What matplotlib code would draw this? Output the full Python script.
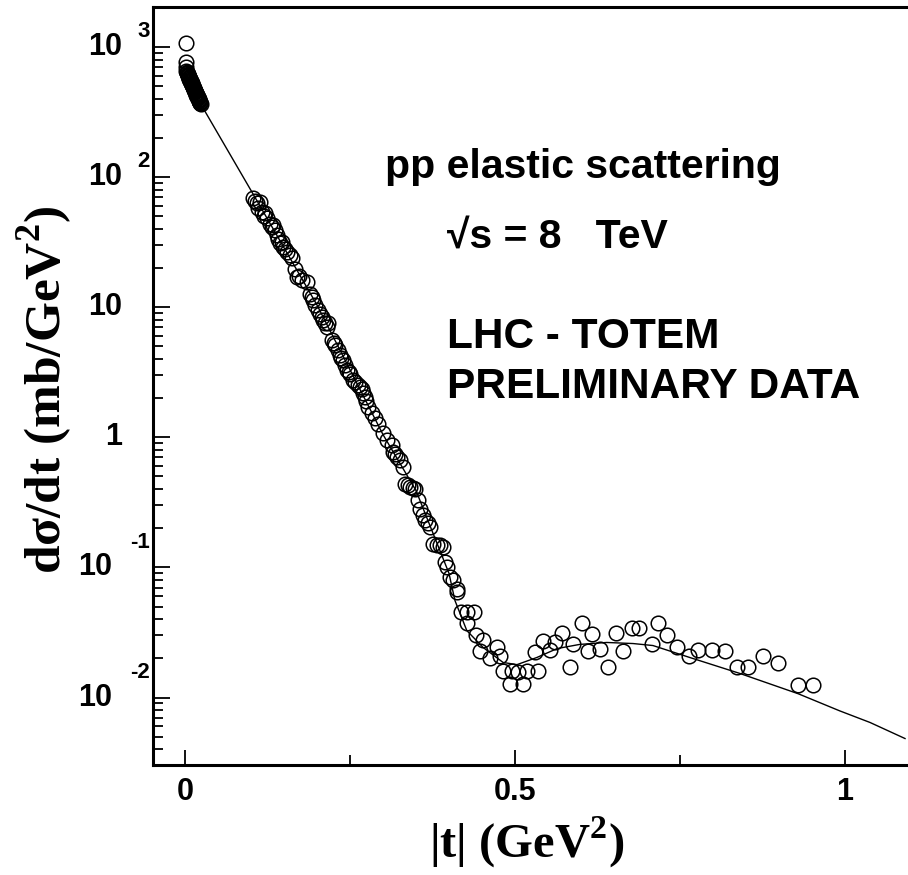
import matplotlib
matplotlib.use('Agg')
import matplotlib.pyplot as plt
import matplotlib.transforms as mtransforms
from matplotlib.ticker import LogLocator, MultipleLocator, NullFormatter

plt.rcParams['mathtext.fontset'] = 'custom'
plt.rcParams['mathtext.rm'] = 'Liberation Serif:bold'
plt.rcParams['mathtext.bf'] = 'Liberation Serif:bold'

# TOTEM preliminary points, |t| in GeV^2 and dsigma/dt in mb/GeV^2
# low |t| cluster (very dense, shows up as a black blob)
t_low = [0.0015, 0.0015, 0.0018,
         0.0020, 0.0024, 0.0029, 0.0033, 0.0038, 0.0042, 0.0046, 0.0051, 0.0055, 0.0060,
         0.0064, 0.0068, 0.0073, 0.0077, 0.0082, 0.0086, 0.0090, 0.0095, 0.0099, 0.0104,
         0.0108, 0.0112, 0.0117, 0.0121, 0.0126, 0.0130, 0.0134, 0.0139, 0.0143, 0.0148,
         0.0152, 0.0156, 0.0161, 0.0165, 0.0170, 0.0174, 0.0178, 0.0183, 0.0187, 0.0192,
         0.0196, 0.0200, 0.0205, 0.0209, 0.0214, 0.0218, 0.0222, 0.0227, 0.0231, 0.0235]
dsdt_low = [1074, 767, 700,
            650, 642, 635, 627, 620, 613, 606, 599, 592, 585,
            578, 571, 564, 558, 551, 545, 538, 532, 526, 520,
            514, 508, 502, 496, 490, 484, 479, 473, 468, 462,
            457, 451, 446, 441, 436, 431, 426, 421, 416, 411,
            406, 402, 397, 392, 388, 383, 379, 374, 370, 366]

t_high = [0.1035, 0.1060, 0.1086, 0.1111, 0.1136, 0.1162, 0.1190, 0.1212, 0.1238, 0.1288,
          0.1314, 0.1340, 0.1364, 0.1390, 0.1414, 0.1439, 0.1470, 0.1489, 0.1520, 0.1541,
          0.1591, 0.1617, 0.1667, 0.1692, 0.1730, 0.1768, 0.1844, 0.1894, 0.1920, 0.1944,
          0.1970, 0.2020, 0.2045, 0.2070, 0.2095, 0.2120, 0.2147, 0.2171, 0.2223, 0.2250,
          0.2273, 0.2323, 0.2348, 0.2370, 0.2398, 0.2424, 0.2450, 0.2480, 0.2500, 0.2550,
          0.2580, 0.2626, 0.2650, 0.2677, 0.2700, 0.2727, 0.2750, 0.2777, 0.2833, 0.2880,
          0.2929, 0.3000, 0.3056, 0.3132, 0.3156, 0.3180, 0.3208, 0.3258, 0.3308, 0.3333,
          0.3380, 0.3409, 0.3460, 0.3485, 0.3535, 0.3560, 0.3611, 0.3636, 0.3680, 0.3712,
          0.3762, 0.3820, 0.3864, 0.3914, 0.3939, 0.3965, 0.4015, 0.4065, 0.4117, 0.4121,
          0.4180, 0.4273, 0.4379, 0.4273, 0.4409, 0.4515, 0.4470, 0.4727, 0.4621, 0.4773,
          0.4818, 0.4955, 0.5045, 0.5182, 0.5348, 0.4924, 0.5121, 0.5303, 0.5424, 0.5530,
          0.5606, 0.5712, 0.5879, 0.5833, 0.6015, 0.6167, 0.6106, 0.6288, 0.6409, 0.6530,
          0.6636, 0.6773, 0.6879, 0.7076, 0.7167, 0.7303, 0.7455, 0.7636, 0.7773, 0.7985,
          0.8182, 0.8364, 0.8530, 0.8758, 0.8985, 0.9288, 0.9515]
dsdt_high = [68.6, 66.0, 62.8, 57.5, 64.6, 54.1, 50.5, 52.6, 48.1, 44.0,
             41.5, 42.5, 39.1, 35.8, 33.7, 30.9, 31.5, 29.1, 28.0, 26.6,
             25.1, 23.7, 19.8, 17.1, 17.5, 16.1, 15.7, 12.7, 12.0, 11.3,
             10.4, 9.48, 8.93, 8.4, 7.94, 7.6, 7.05, 7.5, 5.57, 5.3,
             5.10, 4.67, 4.27, 4.1, 3.91, 3.58, 3.27, 3.2, 3.09, 2.74,
             2.65, 2.51, 2.45, 2.37, 2.2, 2.04, 1.9, 1.71, 1.53, 1.42,
             1.27, 1.08, 0.949, 0.868, 0.770, 0.74, 0.705, 0.665, 0.591, 0.440,
             0.43, 0.415, 0.41, 0.403, 0.327, 0.283, 0.251, 0.230, 0.22, 0.204,
             0.152, 0.150, 0.148, 0.143, 0.110, 0.100, 0.0841, 0.0794, 0.0685, 0.0642,
             0.0451, 0.0451, 0.0451, 0.0371, 0.0300, 0.0279, 0.0226, 0.0243, 0.0200, 0.0210,
             0.0161, 0.0161, 0.0156, 0.0161, 0.0161, 0.0128, 0.0128, 0.0222, 0.0274, 0.0230,
             0.0265, 0.0316, 0.0260, 0.0173, 0.0371, 0.0310, 0.0226, 0.0238, 0.0173, 0.0316,
             0.0226, 0.0340, 0.0340, 0.0260, 0.0371, 0.0300, 0.0243, 0.0210, 0.0230, 0.0230,
             0.0226, 0.0173, 0.0173, 0.0210, 0.0183, 0.0124, 0.0124]

# model curve
t_model = [0.005, 0.0273, 0.106, 0.20, 0.30, 0.35, 0.40, 0.409, 0.427, 0.4515, 0.482,
           0.503, 0.533, 0.564, 0.598, 0.639, 0.679, 0.709, 0.765, 0.841, 0.929,
           0.992, 1.038, 1.091]
dsdt_model = [520, 340, 70.0, 10.4, 1.05, 0.39, 0.090, 0.0557, 0.0327, 0.0243, 0.0186,
              0.0179, 0.0203, 0.0238, 0.0256, 0.0265, 0.0260, 0.0251, 0.0203, 0.0153,
              0.0107, 0.0079, 0.00643, 0.00484]

ytick_vals = [1e-2, 1e-1, 1, 10, 100, 1000]
ytick_base = ['10', '10', '1', '10', '10', '10']
ytick_exp = ['-2', '-1', '', '', '2', '3']

W, H = 908, 875
fig = plt.figure(figsize=(W / 100, H / 100), dpi=100)
ax = fig.add_axes([153 / W, (H - 765) / H, (W - 153) / W, (765 - 7) / H])

ax.plot(t_model, dsdt_model, color='black', lw=1.0, zorder=2)
ax.plot(t_low + t_high, dsdt_low + dsdt_high, ls='none', marker='o', ms=10.5, mfc='none',
        mec='black', mew=1.1, zorder=3)

ax.set_yscale('log')
ax.set_xlim(-0.0485, 1.0955)
ax.set_ylim(0.00303, 2030)

for side in ['top', 'left', 'bottom']:
    ax.spines[side].set_linewidth(2.2)
ax.spines['right'].set_visible(False)

ax.xaxis.set_major_locator(MultipleLocator(0.5))
ax.xaxis.set_minor_locator(MultipleLocator(0.25))
ax.tick_params(axis='x', which='major', direction='in', length=11, width=1.3,
               top=False, pad=9)
ax.tick_params(axis='x', which='minor', direction='in', length=7, width=1.3, top=False)

ax.yaxis.set_major_locator(LogLocator(base=10, numticks=20))
ax.yaxis.set_minor_locator(LogLocator(base=10, subs=range(2, 10), numticks=50))
ax.yaxis.set_minor_formatter(NullFormatter())
ax.tick_params(axis='y', which='major', direction='in', length=12, width=1.3,
               right=False, labelleft=False)
ax.tick_params(axis='y', which='minor', direction='in', length=7, width=1.3, right=False)

# x tick labels
ax.set_xticks([0, 0.5, 1])
ax.set_xticklabels(['0', '0.5', '1'], fontfamily='Liberation Sans', fontweight='bold',
                   fontsize=22)

# y tick labels, ROOT style 10 with exponent
tr = mtransforms.blended_transform_factory(fig.transFigure, ax.transData)
for v, b, e in zip(ytick_vals, ytick_base, ytick_exp):
    if e == '':
        ax.text(122 / W, v, b, transform=tr, ha='right', va='center',
                fontfamily='Liberation Sans', fontweight='bold', fontsize=22)
    else:
        xb = 122 if not e.startswith('-') else 112
        dy = 11 if not e.startswith('-') else 18
        ax.text(xb / W, v, b, transform=tr, ha='right', va='center',
                fontfamily='Liberation Sans', fontweight='bold', fontsize=22)
        ax.annotate(e, xy=(150 / W, v), xycoords=tr, xytext=(0, dy),
                    textcoords='offset points', ha='right', va='center',
                    fontfamily='Liberation Sans', fontweight='bold', fontsize=16)

fig.text(45 / W, 1 - 390 / H, r'd$\mathregular{\sigma}$/dt (mb/GeV$^{2}$)',
         rotation=90, ha='center', va='center', fontfamily='Liberation Serif',
         fontweight='bold', fontsize=37)
fig.text(527 / W, 1 - 842 / H, r'|t| (GeV$^{2}$)', ha='center', va='center',
         fontfamily='Liberation Serif', fontweight='bold', fontsize=35)

tf = dict(fontfamily=['Liberation Sans', 'DejaVu Sans'], fontweight='bold')
fig.text(385 / W, 1 - 178 / H, 'pp elastic scattering', ha='left', va='baseline',
         fontsize=29.5, **tf)
fig.text(447 / W, 1 - 248 / H, '\u221as = 8   TeV', ha='left', va='baseline',
         fontsize=29.5, **tf)
fig.text(447 / W, 1 - 348 / H, 'LHC - TOTEM', ha='left', va='baseline',
         fontsize=30.5, **tf)
fig.text(447 / W, 1 - 398 / H, 'PRELIMINARY DATA', ha='left', va='baseline',
         fontsize=30.5, **tf)

fig.savefig('out.png', dpi=100)
